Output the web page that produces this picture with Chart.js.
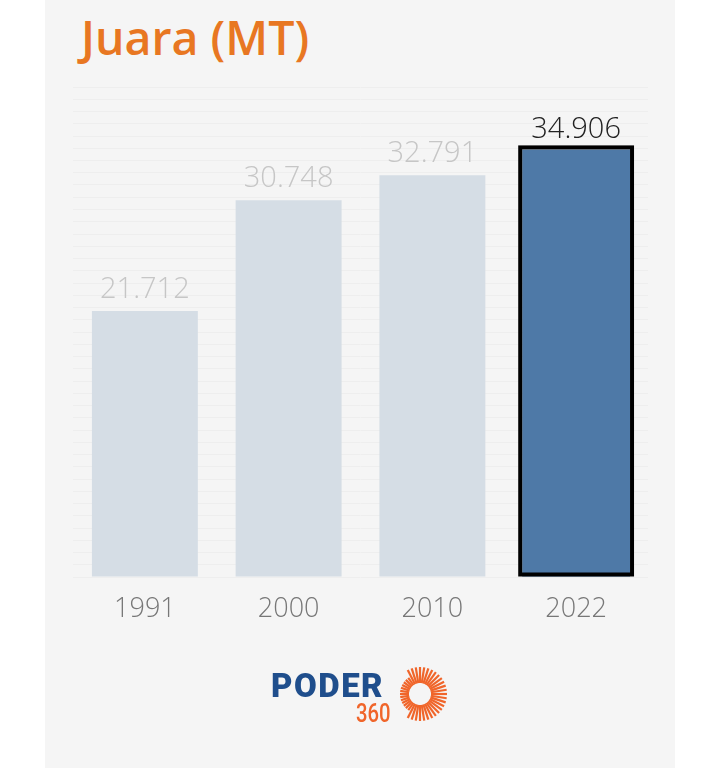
<!DOCTYPE html>
<html>
<head>
<meta charset="utf-8">
<script src="https://cdn.jsdelivr.net/npm/chart.js@4.4.0/dist/chart.umd.min.js"></script>
<style>
  html, body { margin: 0; padding: 0; background: #ffffff; }
  #wrap { position: relative; width: 720px; height: 768px; overflow: hidden; }
  #panel { position: absolute; left: 45px; top: 0; width: 630px; height: 768px; background: #f5f5f5; }
  #title { position: absolute; left: 81px; top: 5px; font-family: "Open Sans", sans-serif; font-weight: 600;
           font-size: 46.5px; color: #e87722; white-space: nowrap; letter-spacing: 0px; }
  #cv { position: absolute; left: 0; top: 0; }
  #logo { position: absolute; left: 271px; top: 664px; width: 190px; height: 70px; }
  #poder { position: absolute; left: 0; top: 0; font-family: Roboto, sans-serif; font-weight: 900; font-size: 33px;
           color: #1f4e8c; letter-spacing: 1.5px; line-height: 44px; }
  #n360 { position: absolute; left: 85px; top: 34px; font-family: Roboto, sans-serif; font-weight: 500; font-size: 26px;
          color: #f0652a; line-height: 30px; transform: scaleX(0.78); transform-origin: left top; }
  #sun { position: absolute; left: 119px; top: 1px; }
</style>
</head>
<body>
<div id="wrap">
  <div id="panel"></div>
  <div id="title">Juara (MT)</div>
  <canvas id="cv" width="720" height="768"></canvas>
  <div id="logo">
    <div id="poder">PODER</div>
    <div id="n360">360</div>
    <svg id="sun" width="60" height="60" viewBox="0 0 60 60"></svg>
  </div>
</div>
<script>
// ---- data ----
const categories = ["1991", "2000", "2010", "2022"];
const population = [21712, 30748, 32791, 34906];
const highlightIndex = 3;
const yMax = 40000;
const gridStep = 1000;

// ---- logo rays ----
(function () {
  const svg = document.getElementById('sun');
  const ns = 'http://www.w3.org/2000/svg';
  const cx = 30, cy = 29;
  for (let i = 0; i < 40; i++) {
    const a = (i / 40) * Math.PI * 2;
    const r1 = 11, r2 = (Math.cos(a) < -0.5) ? 20 : 27;
    const l = document.createElementNS(ns, 'line');
    l.setAttribute('x1', cx + r1 * Math.cos(a));
    l.setAttribute('y1', cy + r1 * Math.sin(a));
    l.setAttribute('x2', cx + r2 * Math.cos(a));
    l.setAttribute('y2', cy + r2 * Math.sin(a));
    l.setAttribute('stroke', '#f0652a');
    l.setAttribute('stroke-width', '2.2');
    svg.appendChild(l);
  }
})();

function fmt(v) {
  return String(v).replace(/\B(?=(\d{3})+(?!\d))/g, '.');
}

const baseValues = population.map((v, i) => i === highlightIndex ? null : v);
const hiValues = population.map((v, i) => i === highlightIndex ? v : null);

const labelPlugin = {
  id: 'valueLabels',
  afterDatasetsDraw(chart) {
    const ctx = chart.ctx;
    ctx.save();
    chart.data.datasets.forEach((ds, di) => {
      const meta = chart.getDatasetMeta(di);
      meta.data.forEach((el, i) => {
        const v = ds.data[i];
        if (v === null || v === undefined) return;
        const p = el.getProps(['x', 'y', 'base', 'width'], true);
        if (ds.isHighlight) {
          ctx.lineWidth = 4;
          ctx.strokeStyle = '#000000';
          ctx.strokeRect(p.x - p.width / 2 - 2, p.y - 2, p.width + 4, p.base - p.y);
        }
        ctx.font = '300 29px "Open Sans", sans-serif';
        ctx.fillStyle = ds.isHighlight ? '#222222' : '#c6c6c6';
        ctx.textAlign = 'center';
        ctx.textBaseline = 'alphabetic';
        ctx.fillText(fmt(v), p.x, p.y - (ds.isHighlight ? 11 : 13));
      });
    });
    ctx.restore();
  }
};

new Chart(document.getElementById('cv'), {
  type: 'bar',
  data: {
    labels: categories,
    datasets: [
      { data: baseValues, backgroundColor: '#d5dde5', barPercentage: 0.737, categoryPercentage: 1, grouped: false },
      { data: hiValues, backgroundColor: '#4e79a7', barPercentage: 0.75, categoryPercentage: 1, grouped: false, isHighlight: true }
    ]
  },
  options: {
    responsive: false,
    animation: false,
    events: [],
    layout: { padding: { left: 73, right: 72, top: 87, bottom: 131 } },
    plugins: { legend: { display: false }, tooltip: { enabled: false }, title: { display: false } },
    scales: {
      x: {
        grid: { display: false, drawTicks: false },
        border: { display: false },
        ticks: { color: '#777777', font: { family: '"Open Sans", sans-serif', size: 27, weight: 300 }, padding: 16 },
        afterFit(s) { s.height = 60; }
      },
      y: {
        min: 0, max: yMax,
        grid: { color: '#eeeeee', lineWidth: 1, drawTicks: false },
        border: { display: false },
        ticks: { display: false, stepSize: gridStep },
        afterFit(s) { s.width = 0; }
      }
    }
  },
  plugins: [labelPlugin]
});
</script>
</body>
</html>
